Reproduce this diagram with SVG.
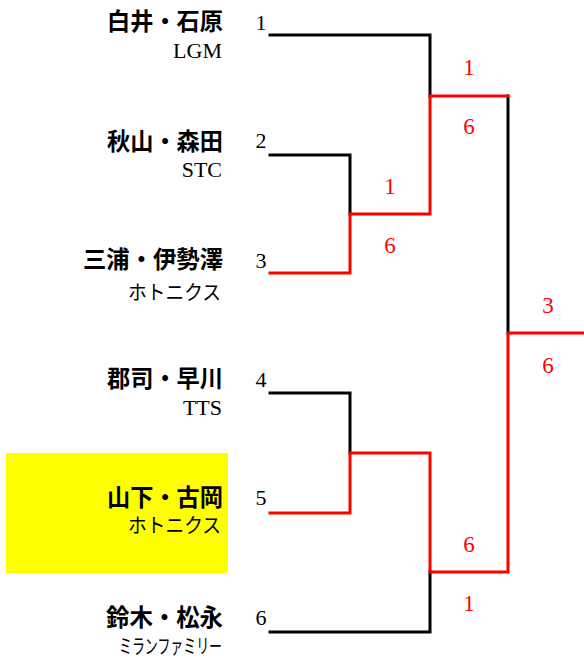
<svg xmlns="http://www.w3.org/2000/svg" width="584" height="659" viewBox="0 0 584 659">
<style>
.name{font-family:"Noto Sans CJK JP","Noto Sans",sans-serif;font-weight:700;font-size:24px;fill:#000;text-anchor:end}
.sub{font-family:"Liberation Serif",serif;font-size:22px;fill:#000;text-anchor:end}
.kana{font-family:"Noto Sans CJK JP",sans-serif;font-size:20px;fill:#000;text-anchor:end}
.seed{font-family:"Liberation Serif",serif;font-size:22px;fill:#000;text-anchor:middle}
.score{font-family:"Liberation Serif",serif;font-size:23px;fill:#ff0000;text-anchor:middle}
.lose{fill:none;stroke:#000;stroke-width:3;stroke-linecap:square}
.win{fill:none;stroke:#ff0000;stroke-width:3;stroke-linecap:square}
</style>
<rect width="584" height="659" fill="#fff"/>
<rect x="6" y="453" width="222" height="120" fill="#ffff00"/>
<g id="p1"><text class="name" x="223" y="30" textLength="116" lengthAdjust="spacingAndGlyphs">白井・石原</text><text class="sub" x="222" y="58">LGM</text><text class="seed" x="261" y="30">1</text></g>
<g id="p2"><text class="name" x="223" y="150" textLength="116" lengthAdjust="spacingAndGlyphs">秋山・森田</text><text class="sub" x="222" y="177">STC</text><text class="seed" x="261" y="148">2</text></g>
<g id="p3"><text class="name" x="223" y="268" textLength="140" lengthAdjust="spacingAndGlyphs">三浦・伊勢澤</text><text class="kana" x="221" y="300" textLength="93" lengthAdjust="spacingAndGlyphs">ホトニクス</text><text class="seed" x="261" y="268">3</text></g>
<g id="p4"><text class="name" x="223" y="387" textLength="116" lengthAdjust="spacingAndGlyphs">郡司・早川</text><text class="sub" x="222" y="415">TTS</text><text class="seed" x="261" y="387">4</text></g>
<g id="p5"><text class="name" x="223" y="506" textLength="116" lengthAdjust="spacingAndGlyphs">山下・古岡</text><text class="kana" x="221" y="533" textLength="93" lengthAdjust="spacingAndGlyphs">ホトニクス</text><text class="seed" x="261" y="505">5</text></g>
<g id="p6"><text class="name" x="223" y="626" textLength="117" lengthAdjust="spacingAndGlyphs">鈴木・松永</text><text class="kana" x="222" y="654" font-size="18" textLength="103" lengthAdjust="spacingAndGlyphs">ミランファミリー</text><text class="seed" x="261" y="625">6</text></g>
<g id="connectors">
<path class="lose" d="M270 35H430V96"/>
<path class="lose" d="M270 155H350V214"/>
<path class="lose" d="M270 393H350V453"/>
<path class="lose" d="M270 632H430V572"/>
<path class="lose" d="M508 96V333"/>
<path class="win" d="M270 273H350V214H430V96H508"/>
<path class="win" d="M270 513H350V453H430V572H508V333H584"/>
</g>
<g id="scores">
<text class="score" x="390" y="194">1</text>
<text class="score" x="390" y="253">6</text>
<text class="score" x="469" y="75">1</text>
<text class="score" x="469" y="134">6</text>
<text class="score" x="469" y="552">6</text>
<text class="score" x="469" y="611">1</text>
<text class="score" x="548" y="313">3</text>
<text class="score" x="548" y="373">6</text>
</g>
</svg>
